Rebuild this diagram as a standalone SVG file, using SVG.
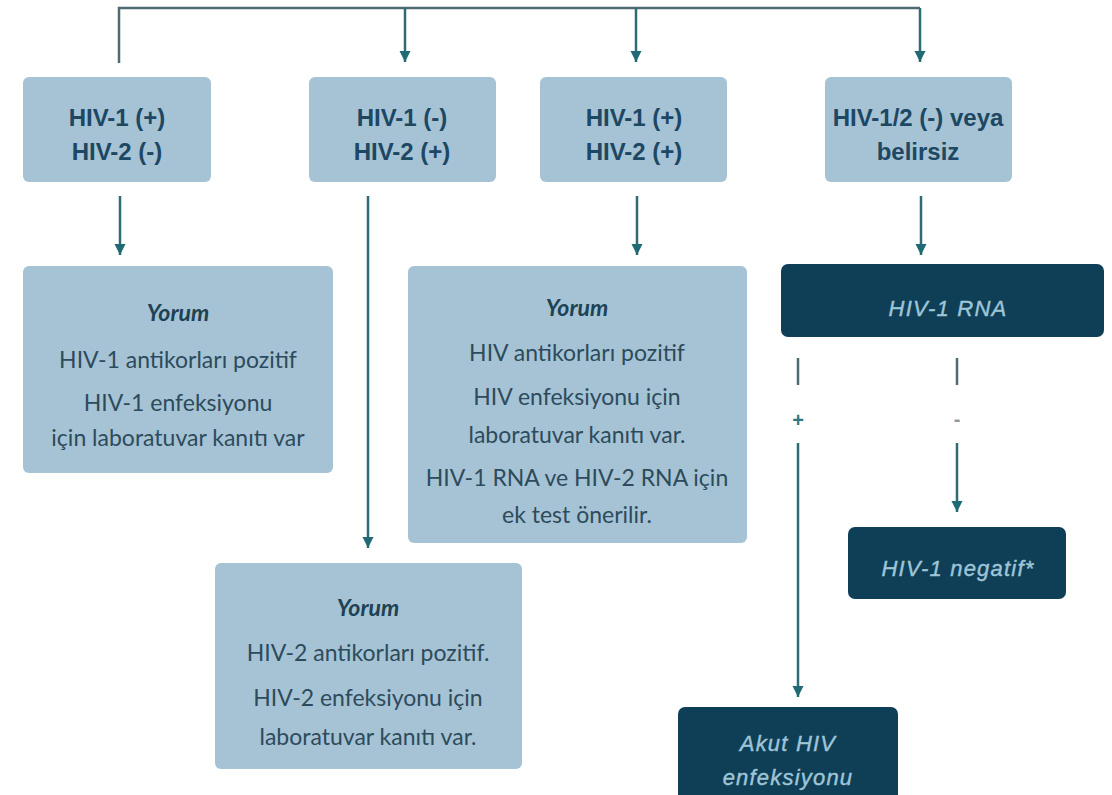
<svg xmlns="http://www.w3.org/2000/svg" width="1112" height="795" viewBox="0 0 1112 795">
<defs>
<style>
.lb{fill:#a5c3d4}
.dk{fill:#0e3f56}
.hd{font-family:"Liberation Sans",Arial,sans-serif;font-weight:bold;font-size:24px;fill:#1d4763;text-anchor:middle}
.yo{font-family:Lato,"Open Sans",sans-serif;font-weight:bold;font-style:italic;font-size:23px;fill:#1d4255;text-anchor:middle}
.bd{font-family:Lato,"Open Sans",sans-serif;font-size:23px;fill:#2d4b5c;text-anchor:middle}
.wt{font-family:"Liberation Sans",Arial,sans-serif;font-style:italic;font-size:22px;letter-spacing:1.2px;stroke:#9fc5d8;stroke-width:0.4;fill:#9fc5d8;text-anchor:middle}
.ln{stroke:#2f6b73;stroke-width:2.5;fill:none}
.gl{stroke:#4f6a70;stroke-width:2.5;fill:none}
.sg{font-family:"Liberation Sans",Arial,sans-serif;font-size:20px;text-anchor:middle;font-weight:bold}
</style>
<marker id="ah" viewBox="0 0 10 10" refX="10" refY="5" markerWidth="11" markerHeight="14" markerUnits="userSpaceOnUse" orient="auto">
<path d="M0,0 L10,5 L0,10 Z" fill="#1f6a74"/>
</marker>
</defs>
<rect width="1112" height="795" fill="#ffffff"/>
<g id="connectors">
<path class="gl" d="M119,63 V8 H920"/>
<line class="ln" x1="405" y1="8" x2="405" y2="62" marker-end="url(#ah)"/>
<line class="ln" x1="636" y1="8" x2="636" y2="62" marker-end="url(#ah)"/>
<line class="ln" x1="920" y1="8" x2="920" y2="62" marker-end="url(#ah)"/>
<line class="ln" x1="120" y1="196" x2="120" y2="255" marker-end="url(#ah)"/>
<line class="ln" x1="368" y1="196" x2="368" y2="548" marker-end="url(#ah)"/>
<line class="ln" x1="637" y1="196" x2="637" y2="255" marker-end="url(#ah)"/>
<line class="ln" x1="921" y1="196" x2="921" y2="255" marker-end="url(#ah)"/>
<line class="gl" x1="798" y1="358" x2="798" y2="385"/>
<text class="sg" x="798" y="427" fill="#2f7a80">+</text>
<line class="ln" x1="798" y1="443" x2="798" y2="697" marker-end="url(#ah)"/>
<line class="gl" x1="957" y1="358" x2="957" y2="385"/>
<text class="sg" x="957" y="426" fill="#8a9aa0">-</text>
<line class="ln" x1="957" y1="443" x2="957" y2="512" marker-end="url(#ah)"/>
</g>
<g id="n1">
<rect class="lb" x="23" y="77" width="188" height="105" rx="6"/>
<text class="hd" x="117" y="126">HIV-1 (+)</text>
<text class="hd" x="117" y="160">HIV-2 (-)</text>
</g>
<g id="n2">
<rect class="lb" x="309" y="77" width="187" height="105" rx="6"/>
<text class="hd" x="402" y="126">HIV-1 (-)</text>
<text class="hd" x="402" y="160">HIV-2 (+)</text>
</g>
<g id="n3">
<rect class="lb" x="540" y="77" width="187" height="105" rx="6"/>
<text class="hd" x="634" y="126">HIV-1 (+)</text>
<text class="hd" x="634" y="160">HIV-2 (+)</text>
</g>
<g id="n4">
<rect class="lb" x="825" y="77" width="187" height="105" rx="6"/>
<text class="hd" x="918" y="126">HIV-1/2 (-) veya</text>
<text class="hd" x="918" y="160">belirsiz</text>
</g>
<g id="y1">
<rect class="lb" x="23" y="266" width="310" height="207" rx="6"/>
<text class="yo" x="178" y="321">Yorum</text>
<text class="bd" x="178" y="368">HIV-1 antikorları pozitif</text>
<text class="bd" x="178" y="411">HIV-1 enfeksiyonu</text>
<text class="bd" x="178" y="446">için laboratuvar kanıtı var</text>
</g>
<g id="y3">
<rect class="lb" x="408" y="266" width="339" height="277" rx="6"/>
<text class="yo" x="577" y="316">Yorum</text>
<text class="bd" x="577" y="361">HIV antikorları pozitif</text>
<text class="bd" x="577" y="405">HIV enfeksiyonu için</text>
<text class="bd" x="577" y="443">laboratuvar kanıtı var.</text>
<text class="bd" x="577" y="486">HIV-1 RNA ve HIV-2 RNA için</text>
<text class="bd" x="577" y="523">ek test önerilir.</text>
</g>
<g id="y2">
<rect class="lb" x="215" y="563" width="307" height="206" rx="6"/>
<text class="yo" x="368" y="616">Yorum</text>
<text class="bd" x="368" y="661">HIV-2 antikorları pozitif.</text>
<text class="bd" x="368" y="706">HIV-2 enfeksiyonu için</text>
<text class="bd" x="368" y="745">laboratuvar kanıtı var.</text>
</g>
<g id="rna">
<rect class="dk" x="781" y="264" width="323" height="73" rx="7"/>
<text class="wt" x="948" y="316">HIV-1 RNA</text>
</g>
<g id="neg">
<rect class="dk" x="848" y="527" width="218" height="72" rx="7"/>
<text class="wt" x="958" y="576">HIV-1 negatif*</text>
</g>
<g id="akut">
<rect class="dk" x="678" y="707" width="220" height="98" rx="7"/>
<text class="wt" x="788" y="751">Akut HIV</text>
<text class="wt" x="788" y="785">enfeksiyonu</text>
</g>
</svg>
